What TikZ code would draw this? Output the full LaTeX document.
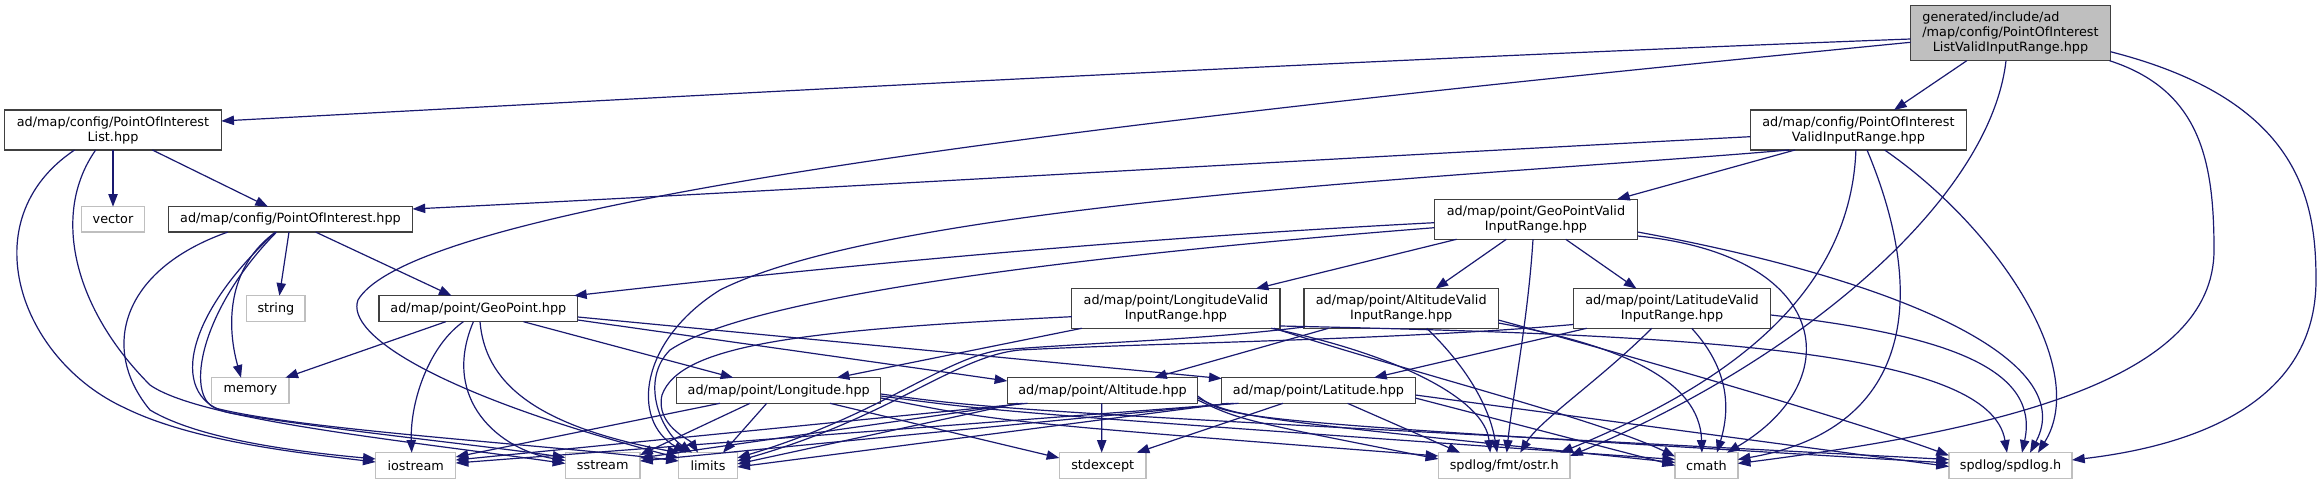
\documentclass[tikz,border=0pt]{standalone}
\usepackage{fontspec}
\setmainfont{DejaVu Sans}
\usetikzlibrary{arrows.meta,calc}
\definecolor{edgec}{HTML}{191970}
\definecolor{nodeb}{HTML}{404040}
\definecolor{extb}{HTML}{BFBFBF}
\definecolor{topf}{HTML}{BFBFBF}
\newcommand\dxfont{\fontsize{9.6pt}{11.25pt}\selectfont}
\begin{document}
\begin{tikzpicture}[x=0.75pt,y=-0.75pt,
  nd/.style={draw=nodeb,line width=1pt,inner sep=0pt,font=\dxfont,fill=white},
  ext/.style={draw=extb,line width=1.1pt,inner sep=0pt,font=\dxfont,fill=white},
  sz/.style 2 args={minimum width=#1*0.75pt,minimum height=#2*0.75pt},
  e/.style={draw=edgec,line width=0.9pt,-{Triangle[length=9.5pt,width=7pt]}}]
\fill[white] (0,0) rectangle (2320,484);
\useasboundingbox (0,0) rectangle (2320,484);
% nodes
\node[nd,sz={200}{55},fill=topf] (T) at (2010.5,33.2) {\begin{tabular}{@{}l@{}}generated/include/ad\\/map/config/PointOfInterest\\\multicolumn{1}{@{}c@{}}{ListValidInputRange.hpp}\end{tabular}};
\node[nd,sz={216.6}{40},align=center] (PL) at (113,130) {ad/map/config/PointOfInterest\\List.hpp};
\node[nd,sz={216.3}{40},align=center] (PVR) at (1858.4,130) {ad/map/config/PointOfInterest\\ValidInputRange.hpp};
\node[nd,sz={244}{25.4}] (P) at (290.5,219.4) {ad/map/config/PointOfInterest.hpp};
\node[nd,sz={203.2}{40},align=center] (GPV) at (1536,219.3) {ad/map/point/GeoPointValid\\InputRange.hpp};
\node[ext,sz={63.2}{25.4}] (vector) at (113,219.4) {vector};
\node[ext,sz={58.3}{26}] (string) at (275.9,308.7) {string};
\node[nd,sz={198.7}{26}] (GP) at (478.4,308.7) {ad/map/point/GeoPoint.hpp};
\node[nd,sz={208.3}{39.6},align=center] (LonV) at (1175.9,308.5) {ad/map/point/LongitudeValid\\InputRange.hpp};
\node[nd,sz={194.3}{39.6},align=center] (AltV) at (1401.2,308.5) {ad/map/point/AltitudeValid\\InputRange.hpp};
\node[nd,sz={197.4}{39.6},align=center] (LatV) at (1672,308.5) {ad/map/point/LatitudeValid\\InputRange.hpp};
\node[ext,sz={77.3}{25.6}] (memory) at (250.4,390.5) {memory};
\node[nd,sz={204}{25.6}] (Lon) at (778.7,390.5) {ad/map/point/Longitude.hpp};
\node[nd,sz={190.4}{25.6}] (Alt) at (1102.5,390.5) {ad/map/point/Altitude.hpp};
\node[nd,sz={193.6}{25.6}] (Lat) at (1318.5,390.5) {ad/map/point/Latitude.hpp};
\node[ext,sz={80}{25.6}] (iostream) at (415.7,465.5) {iostream};
\node[ext,sz={74.7}{25.6}] (sstream) at (602.7,465.5) {sstream};
\node[ext,sz={58.6}{25.6}] (limits) at (708,465.5) {limits};
\node[ext,sz={86.7}{25.6}] (stdexcept) at (1102.7,465.5) {stdexcept};
\node[ext,sz={131.7}{25.6}] (ostr) at (1504.2,465.5) {spdlog/fmt/ostr.h};
\node[ext,sz={62.7}{25.6}] (cmath) at (1706.4,465.5) {cmath};
\node[ext,sz={123.1}{25.6}] (spdlog) at (2010.5,465.5) {spdlog/spdlog.h};
% T
\draw[e] ($(T)+(-99.9,5.8)$) .. controls (1300,62) and (650,98) .. ($(PL)+(108.3,-9)$);
\draw[e] ($(T)+(-99.9,9.1)$) .. controls (1200,112) and (420,195) .. (358,300) .. controls (345,335) and (440,395) .. ($(limits)+(-29.3,-7.5)$);
\draw[e] ($(T)+(-43.7,27.5)$) -- ($(PVR)+(35.6,-20)$);
\draw[e] ($(T)+(-4.5,27.5)$) .. controls (1990,200) and (1800,360) .. ($(ostr)+(65.85,-9.5)$);
\draw[e] ($(T)+(99,27.5)$) .. controls (2200,90) and (2214,160) .. (2214,250) .. controls (2214,380) and (2000,430) .. ($(cmath)+(31.35,-2)$);
\draw[e] ($(T)+(99.9,18.5)$) .. controls (2300,100) and (2316,200) .. (2316,280) .. controls (2316,400) and (2200,445) .. ($(spdlog)+(61.55,-5.5)$);
% PL
\draw[e] ($(PL)+(0,20)$) -- ($(vector)+(0,-12.7)$);
\draw[e] ($(PL)+(39.4,20)$) -- ($(P)+(-22.5,-12.7)$);
\draw[e] ($(PL)+(-38.4,20)$) .. controls (-30,220) and (20,360) .. (125,408) .. controls (190,440) and (290,452) .. ($(iostream)+(-40,-3.5)$);
\draw[e] ($(PL)+(-17.3,20)$) .. controls (50,215) and (75,310) .. (150,385) .. controls (200,420) and (400,440) .. ($(sstream)+(-37.35,-2)$);
% P
\draw[e] ($(P)+(-1.5,12.7)$) -- ($(string)+(3.5,-13)$);
\draw[e] ($(P)+(-15,12.7)$) .. controls (230,265) and (225,320) .. ($(memory)+(-9.4,-12.8)$);
\draw[e] ($(P)+(25.2,12.7)$) -- ($(GP)+(-26.8,-13)$);
\draw[e] ($(P)+(-62.8,12.7)$) .. controls (120,270) and (100,350) .. (150,410) .. controls (200,440) and (300,452) .. ($(iostream)+(-40,-6.5)$);
\draw[e] ($(P)+(-15,12.7)$) .. controls (180,320) and (170,400) .. (230,413) .. controls (330,430) and (480,445) .. ($(sstream)+(-37.35,-8)$);
\draw[e] ($(P)+(-14,12.7)$) .. controls (200,310) and (185,395) .. (215,408) .. controls (300,430) and (550,445) .. ($(limits)+(-29.3,-4.5)$);
% GP
\draw[e] ($(GP)+(-32.6,13)$) -- ($(memory)+(35,-12.8)$);
\draw[e] ($(GP)+(-15,13)$) .. controls (430,345) and (410,400) .. ($(iostream)+(-4,-12.8)$);
\draw[e] ($(GP)+(-5,13)$) .. controls (440,400) and (500,450) .. ($(sstream)+(-37.35,-5)$);
\draw[e] ($(GP)+(1.6,13)$) .. controls (485,380) and (530,425) .. ($(limits)+(-28,-12.5)$);
\draw[e] ($(GP)+(45,13)$) -- ($(Lon)+(-45.4,-12.8)$);
\draw[e] ($(GP)+(99.35,11.3)$) -- ($(Alt)+(-95.2,-9.5)$);
\draw[e] ($(GP)+(99.35,8.3)$) -- ($(Lat)+(-96.8,-12)$);
% LonV
\draw[e] ($(LonV)+(-104.15,8.2)$) .. controls (800,330) and (680,345) .. (662,395) .. controls (655,425) and (690,440) .. ($(limits)+(-10,-12.8)$);
\draw[e] ($(LonV)+(-94.15,19.8)$) -- ($(Lon)+(58,-12.8)$);
\draw[e] ($(LonV)+(95.15,19.8)$) .. controls (1400,355) and (1485,400) .. ($(ostr)+(-14,-12.8)$);
\draw[e] ($(LonV)+(98,19.8)$) .. controls (1420,375) and (1600,420) .. ($(cmath)+(-31.35,-9)$);
\draw[e] ($(LonV)+(104.15,17.5)$) .. controls (1700,335) and (1990,350) .. ($(spdlog)+(-3.5,-12.8)$);
% AltV
\draw[e] ($(AltV)+(-97.15,18.5)$) .. controls (1200,340) and (1100,342) .. (1000,350) .. controls (940,360) and (880,415) .. ($(limits)+(29.3,-7.5)$);
\draw[e] ($(AltV)+(-72.75,19.8)$) -- ($(Alt)+(51.5,-12.8)$);
\draw[e] ($(AltV)+(25.5,19.8)$) .. controls (1470,370) and (1490,410) .. ($(ostr)+(-7,-12.8)$);
\draw[e] ($(AltV)+(97.15,14.5)$) .. controls (1620,345) and (1700,380) .. ($(cmath)+(-4.5,-12.8)$);
\draw[e] ($(AltV)+(97.15,11.5)$) .. controls (1700,375) and (1880,430) .. ($(spdlog)+(-61.55,-10)$);
% LatV
\draw[e] ($(LatV)+(-98.7,16)$) .. controls (1400,340) and (1150,343) .. (1020,350) .. controls (955,356) and (890,418) .. ($(limits)+(29.3,-4.5)$);
\draw[e] ($(LatV)+(-85.3,19.8)$) -- ($(Lat)+(55.5,-12.8)$);
\draw[e] ($(LatV)+(-20.3,19.8)$) .. controls (1600,380) and (1540,420) .. ($(ostr)+(16,-12.8)$);
\draw[e] ($(LatV)+(19.7,19.8)$) .. controls (1730,370) and (1730,410) .. ($(cmath)+(10.5,-12.8)$);
\draw[e] ($(LatV)+(98.7,6.5)$) .. controls (1950,335) and (2040,370) .. ($(spdlog)+(11.5,-12.8)$);
% GPV
\draw[e] ($(GPV)+(-101.6,3.4)$) .. controls (1100,240) and (800,270) .. ($(GP)+(95.6,-13)$);
\draw[e] ($(GPV)+(-101.6,8.4)$) .. controls (1150,250) and (760,290) .. (670,350) .. controls (640,380) and (660,430) .. ($(limits)+(-16,-12.8)$);
\draw[e] ($(GPV)+(-79.4,20)$) -- ($(LonV)+(79.85,-19.8)$);
\draw[e] ($(GPV)+(-29.7,20)$) -- ($(AltV)+(34.3,-19.8)$);
\draw[e] ($(GPV)+(29.7,20)$) -- ($(LatV)+(-35.5,-19.8)$);
\draw[e] ($(GPV)+(-3,20)$) .. controls (1528,320) and (1512,400) .. ($(ostr)+(2.5,-12.8)$);
\draw[e] ($(GPV)+(101.6,16.7)$) .. controls (1830,255) and (1850,380) .. ($(cmath)+(20.6,-12.8)$);
\draw[e] ($(GPV)+(101.6,12.7)$) .. controls (1900,280) and (2080,360) .. ($(spdlog)+(19.5,-12.8)$);
% PVR
\draw[e] ($(PVR)+(-108.15,6.7)$) .. controls (1300,160) and (800,190) .. ($(P)+(122.05,-10.4)$);
\draw[e] ($(PVR)+(-69.4,20)$) .. controls (1500,175) and (900,200) .. (720,290) .. controls (640,340) and (630,420) .. ($(limits)+(-22,-12.8)$);
\draw[e] ($(PVR)+(-63.4,20)$) -- ($(GPV)+(81,-20)$);
\draw[e] ($(PVR)+(-2.5,20)$) .. controls (1850,310) and (1700,395) .. ($(ostr)+(56,-12.8)$);
\draw[e] ($(PVR)+(8.6,20)$) .. controls (1930,300) and (1910,430) .. ($(cmath)+(31.35,-6)$);
\draw[e] ($(PVR)+(26.2,20)$) .. controls (2000,230) and (2090,370) .. ($(spdlog)+(27.5,-12.8)$);
% Lon
\draw[e] ($(Lon)+(-58.7,12.8)$) -- ($(iostream)+(40,-8.5)$);
\draw[e] ($(Lon)+(-28.7,12.8)$) -- ($(sstream)+(37.35,-10.5)$);
\draw[e] ($(Lon)+(-12,12.8)$) -- ($(limits)+(15,-12.8)$);
\draw[e] ($(Lon)+(51.3,12.8)$) -- ($(stdexcept)+(-43.35,-7.5)$);
\draw[e] ($(Lon)+(102,7.5)$) .. controls (1000,422) .. ($(ostr)+(-65.85,-9.5)$);
\draw[e] ($(Lon)+(102,5.5)$) .. controls (1000,412) .. ($(cmath)+(-31.35,-6)$);
\draw[e] ($(Lon)+(102,3.5)$) .. controls (1000,410) .. ($(spdlog)+(-61.55,-6)$);
% Alt
\draw[e] ($(Alt)+(-75,12.8)$) -- ($(iostream)+(40,-5.5)$);
\draw[e] ($(Alt)+(-80,12.8)$) -- ($(sstream)+(37.35,-7.5)$);
\draw[e] ($(Alt)+(-85,12.8)$) -- ($(limits)+(29.3,-1.5)$);
\draw[e] ($(Alt)+(-0.8,12.8)$) -- ($(stdexcept)+(-1,-12.8)$);
\draw[e] ($(Alt)+(95.2,9.5)$) .. controls (1240,420) .. ($(ostr)+(-65.85,-6.5)$);
\draw[e] ($(Alt)+(95.2,7.5)$) .. controls (1240,418) .. ($(cmath)+(-31.35,-3)$);
\draw[e] ($(Alt)+(95.2,5.5)$) .. controls (1230,420) .. ($(spdlog)+(-61.55,-2.5)$);
% Lat
\draw[e] ($(Lat)+(-80,12.8)$) -- ($(iostream)+(40,-2.5)$);
\draw[e] ($(Lat)+(-85,12.8)$) -- ($(sstream)+(37.35,-4.5)$);
\draw[e] ($(Lat)+(-90,12.8)$) -- ($(limits)+(29.3,1.5)$);
\draw[e] ($(Lat)+(-35.5,12.8)$) -- ($(stdexcept)+(34,-12.8)$);
\draw[e] ($(Lat)+(29,12.8)$) -- ($(ostr)+(-44,-12.8)$);
\draw[e] ($(Lat)+(96.8,7.5)$) -- ($(cmath)+(-31.35,0)$);
\draw[e] ($(Lat)+(96.8,4.5)$) -- ($(spdlog)+(-61.55,1)$);
\end{tikzpicture}
\end{document}
